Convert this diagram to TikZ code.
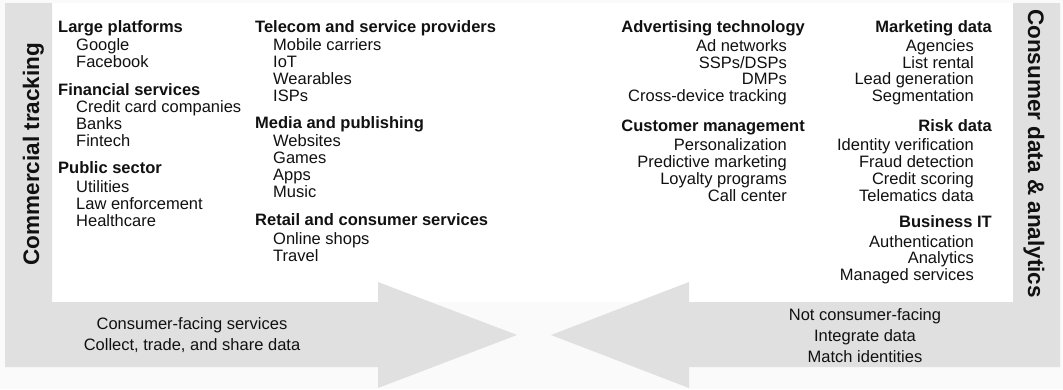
\documentclass[tikz,border=0pt]{standalone}
\usepackage{fontspec}
\setmainfont{Liberation Sans}
\definecolor{pagebg}{HTML}{FAFAFA}
\definecolor{bandgray}{HTML}{E0E0E0}
\definecolor{ink}{HTML}{111111}
\begin{document}
\begin{tikzpicture}[x=1pt,y=-1pt,
  every node/.style={inner sep=0pt, text=ink, font=\fontsize{16.5}{17}\selectfont},
  hd/.style={font=\fontsize{16.5}{17}\selectfont\bfseries},
  lt/.style={anchor=base west},
  rt/.style={anchor=base east},
  mid/.style={anchor=base},
  side/.style={font=\fontsize{22.5}{24}\selectfont\bfseries, anchor=base}]

% canvas and the white working area between the two bars
\useasboundingbox (0,0) rectangle (1063,389);
\fill[pagebg] (0,0) rectangle (1063,389);
\fill[white] (52,3) rectangle (1013,302);

% left bar bending into a right-pointing arrow
\fill[bandgray] (5,3) -- (52,3) -- (52,302) -- (378,302) -- (378,282)
  -- (517,335) -- (378,388) -- (378,367) -- (5,367) -- cycle;
% right bar bending into a left-pointing arrow
\fill[bandgray] (1060,3) -- (1013,3) -- (1013,302) -- (689,302) -- (689,282)
  -- (551,335) -- (689,388) -- (689,367) -- (1060,367) -- cycle;

% side labels
\node[side, rotate=90]  (lefttitle)  at (39,154)    {Commercial tracking};
\node[side, rotate=-90] (righttitle) at (1028,153.5) {Consumer data \& analytics};

% column 1
\node[hd, lt] (h11) at (58,32)    {Large platforms};
\node[lt] (a1) at (76,50)    {Google};
\node[lt] (a2) at (76,67)    {Facebook};
\node[hd, lt] (h12) at (58,95)    {Financial services};
\node[lt] (a3) at (76,112.5) {Credit card companies};
\node[lt] (a4) at (76,129.5) {Banks};
\node[lt] (a5) at (76,146.5) {Fintech};
\node[hd, lt] (h13) at (58,173.5) {Public sector};
\node[lt] (a6) at (76,192)   {Utilities};
\node[lt] (a7) at (76,209)   {Law enforcement};
\node[lt] (a8) at (76,226)   {Healthcare};

% column 2
\node[hd, lt] (h21) at (255,32)    {Telecom and service providers};
\node[lt] (b1) at (273,50)    {Mobile carriers};
\node[lt] (b2) at (273,67)    {IoT};
\node[lt] (b3) at (273,84)    {Wearables};
\node[lt] (b4) at (273,101)   {ISPs};
\node[hd, lt] (h22) at (255,128.5) {Media and publishing};
\node[lt] (b5) at (273,146.5) {Websites};
\node[lt] (b6) at (273,163.5) {Games};
\node[lt] (b7) at (273,180.5) {Apps};
\node[lt] (b8) at (273,197.5) {Music};
\node[hd, lt] (h23) at (255,225.5) {Retail and consumer services};
\node[lt] (b9) at (273,244)   {Online shops};
\node[lt] (b10) at (273,261)  {Travel};

% column 3
\node[hd, rt] (h31) at (805,32)    {Advertising technology};
\node[rt] (c1) at (787,51)    {Ad networks};
\node[rt] (c2) at (787,68)    {SSPs/DSPs};
\node[rt] (c3) at (787,84.5)  {DMPs};
\node[rt] (c4) at (787,101)   {Cross-device tracking};
\node[hd, rt] (h32) at (805,131)   {Customer management};
\node[rt] (c5) at (787,150.5) {Personalization};
\node[rt] (c6) at (787,167)   {Predictive marketing};
\node[rt] (c7) at (787,184)   {Loyalty programs};
\node[rt] (c8) at (787,201)   {Call center};

% column 4
\node[hd, rt] (h41) at (992,32)    {Marketing data};
\node[rt] (d1) at (974,51)    {Agencies};
\node[rt] (d2) at (974,68)    {List rental};
\node[rt] (d3) at (974,84.5)  {Lead generation};
\node[rt] (d4) at (974,101)   {Segmentation};
\node[hd, rt] (h42) at (992,131)   {Risk data};
\node[rt] (d5) at (974,150.5) {Identity verification};
\node[rt] (d6) at (974,167)   {Fraud detection};
\node[rt] (d7) at (974,184)   {Credit scoring};
\node[rt] (d8) at (974,201)   {Telematics data};
\node[hd, rt] (h43) at (992,227)   {Business IT};
\node[rt] (d9) at (974,247)   {Authentication};
\node[rt] (d10) at (974,263.5) {Analytics};
\node[rt] (d11) at (974,280.5) {Managed services};

% captions inside the arrows
\node[mid] (l1) at (192,329) {Consumer-facing services};
\node[mid] (l2) at (192,350) {Collect, trade, and share data};
\node[mid] (r1) at (865,320) {Not consumer-facing};
\node[mid] (r2) at (865,341) {Integrate data};
\node[mid] (r3) at (865,362) {Match identities};
\end{tikzpicture}
\end{document}
